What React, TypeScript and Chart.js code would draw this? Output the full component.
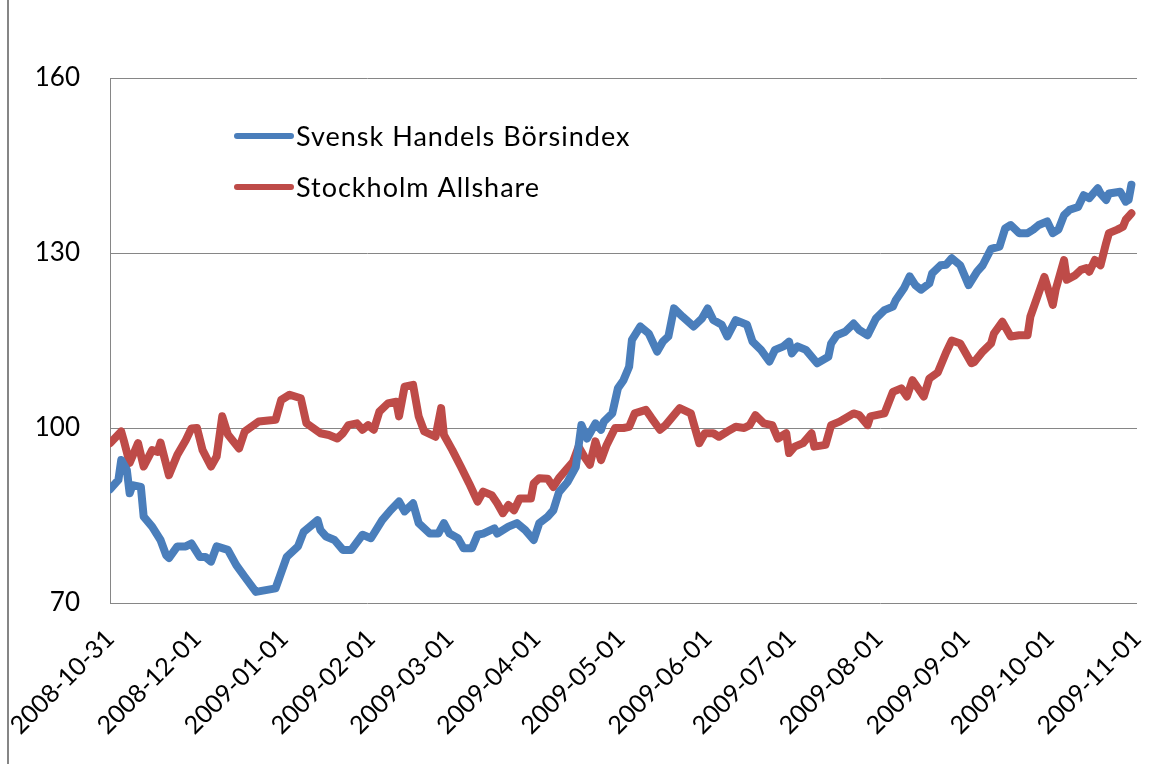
import React, { useEffect, useRef } from "react";
import { Chart, registerables } from "chart.js";

Chart.register(...registerables);

// Days since 2008-10-31
const tickDays = [0, 31, 62, 93, 121, 152, 182, 213, 243, 274, 305, 335, 366];
const tickLabels = [
  "2008-10-31", "2008-12-01", "2009-01-01", "2009-02-01", "2009-03-01", "2009-04-01",
  "2009-05-01", "2009-06-01", "2009-07-01", "2009-08-01", "2009-09-01", "2009-10-01", "2009-11-01",
];
const yTicks = [70, 100, 130, 160];

const seriesNames = ["Svensk Handels Börsindex", "Stockholm Allshare"];
const seriesColors = ["#4A7EBB", "#BE4B48"];

const shbDays = [
  0, 3, 4, 6, 7, 8, 11, 12, 15, 18, 20, 21, 24, 27, 29, 32, 34, 36, 38, 42, 45, 48, 52, 59, 63, 67, 69, 72, 74, 75,
  77, 80, 83, 86, 90, 93, 97, 100, 103, 105, 108, 110, 114, 117, 119, 121, 124, 126, 129, 131, 133, 137, 138, 142, 145,
  148, 151, 153, 156, 158, 160, 163, 166, 168, 170, 173, 175, 176, 179, 181, 183, 185, 186, 189, 192, 195, 197, 199,
  201, 204, 208, 211, 213, 215, 218, 220, 223, 227, 229, 232, 235, 237, 240, 242, 243, 245, 248, 252, 256, 257, 259,
  262, 265, 267, 270, 273, 276, 279, 280, 283, 285, 287, 289, 292, 293, 296, 298, 300, 303, 306, 309, 311, 314, 317,
  319, 321, 324, 327, 329, 331, 334, 336, 338, 340, 342, 345, 347, 349, 352, 353, 355, 356, 360, 362, 363, 364,
];
const shbValues = [
  89.5, 91.1, 94.5, 92.8, 88.8, 90.2, 89.9, 84.8, 83.1, 80.8, 78.2, 77.7, 79.7, 79.7, 80.2, 77.9, 77.9, 77.1, 79.7, 79.1,
  76.5, 74.5, 71.9, 72.5, 77.9, 79.7, 82.2, 83.4, 84.2, 82.5, 81.4, 80.8, 79.1, 79.1, 81.7, 81.1, 84.2, 85.9, 87.4, 85.7,
  87.1, 83.7, 81.9, 81.9, 83.7, 81.9, 81.1, 79.4, 79.4, 81.7, 81.9, 82.8, 81.9, 83.1, 83.7, 82.5, 80.8, 83.7, 84.8, 85.9,
  89.0, 90.7, 93.3, 100.5, 98.2, 100.8, 99.7, 101.1, 102.5, 106.8, 108.2, 110.5, 115.1, 117.4, 116.2, 113.1, 114.8,
  115.7, 120.5, 119.1, 117.4, 118.8, 120.5, 118.5, 117.7, 115.7, 118.5, 117.7, 114.8, 113.4, 111.4, 113.4, 114.0, 114.8,
  112.8, 114.0, 113.4, 111.1, 112.2, 114.5, 115.9, 116.5, 117.9, 116.8, 115.9, 118.8, 120.2, 120.8, 121.9, 124.0, 126.0,
  124.5, 123.7, 124.8, 126.5, 127.9, 128.0, 129.1, 127.9, 124.5, 126.8, 127.9, 130.7, 131.1, 134.2, 134.8, 133.4, 133.4,
  134.0, 134.8, 135.4, 133.4, 134.0, 136.5, 137.4, 137.9, 139.9, 139.4, 141.1, 140.2, 139.1, 140.2, 140.5, 138.8, 139.1,
  141.7,
];

const omxDays = [
  0, 4, 5, 7, 10, 12, 15, 17, 18, 21, 24, 27, 29, 31, 33, 36, 38, 40, 42, 46, 48, 53, 59, 61, 64, 68, 70, 75, 78, 81,
  83, 85, 88, 90, 92, 94, 96, 99, 102, 103, 105, 108, 110, 112, 116, 118, 119, 122, 125, 128, 131, 133, 136, 138, 140,
  142, 144, 146, 150, 151, 153, 156, 158, 160, 163, 165, 167, 169, 171, 173, 175, 177, 180, 183, 185, 187, 191, 193,
  196, 198, 202, 203, 207, 208, 210, 212, 215, 217, 220, 223, 226, 228, 230, 233, 236, 238, 241, 242, 244, 247, 250,
  251, 255, 257, 260, 265, 267, 270, 271, 276, 279, 282, 284, 286, 290, 292, 295, 298, 300, 303, 307, 308, 311, 314,
  315, 318, 321, 324, 327, 328, 333, 336, 337, 340, 341, 344, 346, 348, 349, 351, 353, 355, 356, 359, 361, 362, 364,
];
const omxValues = [
  97.4, 99.4, 97.7, 94.0, 97.4, 93.4, 96.2, 95.9, 97.5, 91.9, 95.4, 97.9, 99.9, 100.0, 96.2, 93.4, 95.1, 102.0, 98.9,
  96.5, 99.4, 101.1, 101.4, 104.8, 105.7, 105.1, 100.8, 99.1, 98.8, 98.2, 99.1, 100.5, 100.8, 99.7, 100.5, 99.7, 102.8,
  104.2, 104.5, 102.0, 107.1, 107.4, 102.0, 99.4, 98.5, 103.4, 98.8, 96.2, 93.4, 90.5, 87.4, 89.1, 88.5, 87.1, 85.4,
  86.8, 85.9, 87.9, 87.9, 90.5, 91.4, 91.3, 89.9, 91.4, 93.1, 94.2, 96.8, 95.1, 93.7, 97.7, 94.5, 97.1, 100.0, 100.0,
  100.2, 102.5, 103.1, 101.7, 99.7, 100.5, 102.8, 103.4, 102.5, 100.8, 97.4, 99.1, 99.1, 98.5, 99.4, 100.2, 100.0,
  100.5, 102.2, 100.8, 100.5, 98.2, 99.1, 95.7, 96.8, 97.4, 99.1, 96.8, 97.1, 100.5, 101.1, 102.5, 102.2, 100.5, 102.0,
  102.5, 106.2, 106.8, 105.4, 108.2, 105.4, 108.5, 109.5, 113.0, 115.0, 114.5, 111.1, 111.3, 113.1, 114.5, 116.2,
  118.2, 115.7, 115.9, 115.9, 119.1, 125.9, 121.1, 123.7, 128.8, 125.4, 126.2, 127.1, 127.4, 126.8, 128.8, 127.9, 131.7,
  133.4, 134.0, 134.5, 135.7, 136.8,
];

const FONT = "Lato";

const legendPlugin = {
  id: "insideLegend",
  afterDraw(chart: any) {
    const ctx = chart.ctx;
    const area = chart.chartArea;
    const x0 = area.left + 127;
    const rows = [area.top + 58, area.top + 109];
    ctx.save();
    seriesNames.forEach((name, i) => {
      const y = rows[i];
      ctx.strokeStyle = seriesColors[i];
      ctx.lineWidth = 6;
      ctx.lineCap = "round";
      ctx.beginPath();
      ctx.moveTo(x0, y);
      ctx.lineTo(x0 + 54, y);
      ctx.stroke();
      ctx.fillStyle = "#000";
      ctx.font = `27px ${FONT}`;
      try { (ctx as any).letterSpacing = "1px"; } catch (e) {}
      ctx.textAlign = "left";
      ctx.textBaseline = "middle";
      ctx.fillText(name, x0 + 59, y + 1);
      try { (ctx as any).letterSpacing = "0px"; } catch (e) {}
    });
    ctx.restore();
  },
};

export default function App() {
  const ref = useRef<HTMLCanvasElement>(null);
  useEffect(() => {
    if (!ref.current) return;
    const chart = new Chart(ref.current, {
      type: "line",
      data: {
        datasets: [
          {
            label: seriesNames[0],
            data: shbDays.map((d, i) => ({ x: d, y: shbValues[i] })),
            borderColor: seriesColors[0],
            backgroundColor: seriesColors[0],
          },
          {
            label: seriesNames[1],
            data: omxDays.map((d, i) => ({ x: d, y: omxValues[i] })),
            borderColor: seriesColors[1],
            backgroundColor: seriesColors[1],
          },
        ],
      },
      options: {
        responsive: false,
        animation: false,
        devicePixelRatio: 1,
        elements: {
          line: { borderWidth: 8, tension: 0, borderCapStyle: "round", borderJoinStyle: "round" },
          point: { radius: 0 },
        },
        layout: { padding: { left: 0, right: 33, top: 78, bottom: 0 } },
        plugins: { legend: { display: false }, tooltip: { enabled: false } },
        scales: {
          x: {
            type: "linear",
            min: tickDays[0],
            max: tickDays[tickDays.length - 1],
            grid: { display: false },
            border: { display: false },
            afterFit: (s: any) => {
              s.height = 161;
              s.paddingLeft = 0;
              s.paddingRight = 0;
            },
            afterBuildTicks: (s: any) => { s.ticks = tickDays.map((v) => ({ value: v })); },
            ticks: {
              autoSkip: false,
              minRotation: 45,
              maxRotation: 45,
              padding: 13,
              color: "#000",
              font: { family: FONT, size: 25 },
              callback: (v: any) => tickLabels[tickDays.indexOf(v)] ?? "",
            },
          },
          y: {
            min: yTicks[0],
            max: yTicks[yTicks.length - 1],
            afterFit: (s: any) => {
              s.width = 110;
              s.paddingTop = 0;
              s.paddingBottom = 0;
            },
            afterBuildTicks: (s: any) => { s.ticks = yTicks.map((v) => ({ value: v })); },
            grid: { color: "#868686", lineWidth: 1, drawTicks: false },
            border: { display: true, color: "#868686", width: 1 },
            ticks: {
              padding: 30,
              color: "#000",
              font: { family: FONT, size: 26 },
            },
          },
        },
      },
      plugins: [legendPlugin],
    });
    return () => chart.destroy();
  }, []);

  return (
    <div style={{ position: "fixed", left: 0, top: 0, width: 1170, height: 764, background: "#fff", overflow: "hidden" }}>
      <div style={{ position: "absolute", left: 7, top: 0, width: 2, height: 764, background: "#868686" }} />
      <canvas ref={ref} width={1170} height={764} style={{ position: "absolute", left: 0, top: 0, width: 1170, height: 764 }} />
    </div>
  );
}
